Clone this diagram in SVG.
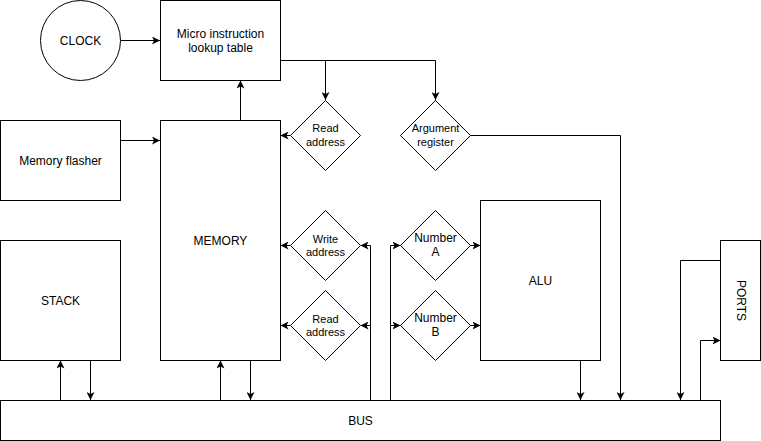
<svg xmlns="http://www.w3.org/2000/svg" width="761" height="441" viewBox="0 0 761 441">
<style>
.n{fill:#fff;stroke:#000;stroke-width:1}
.t{font-family:"Liberation Sans",Arial,sans-serif;font-size:12px;fill:#000;text-anchor:middle}
.s{font-size:11px}
.c{fill:none;stroke:#000;stroke-width:1}
</style>
<defs>
<marker id="a" viewBox="0 0 8 8" markerWidth="8" markerHeight="8" markerUnits="userSpaceOnUse" refX="8" refY="4" orient="auto">
<path d="M0,0 L8,4 L0,8 L2,4 z" fill="#000"/>
</marker>
</defs>
<rect width="761" height="441" fill="#fff"/>
<g id="connectors">
<path class="c" d="M120.5,40.5 H160" marker-end="url(#a)"/>
<path class="c" d="M120.5,140.5 H160" marker-end="url(#a)"/>
<path class="c" d="M240.5,120 V80.5" marker-end="url(#a)"/>
<path class="c" d="M280.5,60.5 H325.5 V100" marker-end="url(#a)"/>
<path class="c" d="M325.5,60.5 H435.5 V100" marker-end="url(#a)"/>
<path class="c" d="M290.5,135.5 H280.5" marker-end="url(#a)"/>
<path class="c" d="M470.5,135.5 H620.5 V400" marker-end="url(#a)"/>
<path class="c" d="M290.5,245.5 H280.5" marker-end="url(#a)"/>
<path class="c" d="M290.5,325.5 H280.5" marker-end="url(#a)"/>
<path class="c" d="M370.5,400 V245.5 H360.5" marker-end="url(#a)"/>
<path class="c" d="M370.5,325.5 H360.5" marker-end="url(#a)"/>
<path class="c" d="M390.5,400 V245.5 H400.5" marker-end="url(#a)"/>
<path class="c" d="M390.5,325.5 H400.5" marker-end="url(#a)"/>
<path class="c" d="M470.5,245.5 H480.5" marker-end="url(#a)"/>
<path class="c" d="M470.5,325.5 H480.5" marker-end="url(#a)"/>
<path class="c" d="M580.5,360.5 V400" marker-end="url(#a)"/>
<path class="c" d="M720.5,260.5 H680.5 V400" marker-end="url(#a)"/>
<path class="c" d="M700.5,400 V340.5 H720.5" marker-end="url(#a)"/>
<path class="c" d="M60.5,400 V360.5" marker-end="url(#a)"/>
<path class="c" d="M90.5,360.5 V400" marker-end="url(#a)"/>
<path class="c" d="M220.5,400 V360.5" marker-end="url(#a)"/>
<path class="c" d="M250.5,360.5 V400" marker-end="url(#a)"/>
</g>
<g id="clock"><circle class="n" cx="80.5" cy="40.5" r="40"/><text class="t" x="80.5" y="44.5">CLOCK</text></g>
<g id="micro"><rect class="n" x="160.5" y="0.5" width="120" height="80"/><text class="t" x="220.5" y="37.5">Micro instruction</text><text class="t" x="220.5" y="51.5">lookup table</text></g>
<g id="flasher"><rect class="n" x="0.5" y="120.5" width="120" height="80"/><text class="t" x="60.5" y="164.5">Memory flasher</text></g>
<g id="memory"><rect class="n" x="160.5" y="120.5" width="120" height="240"/><text class="t" x="220.5" y="244.5">MEMORY</text></g>
<g id="stack"><rect class="n" x="0.5" y="240.5" width="120" height="120"/><text class="t" x="60.5" y="304.5">STACK</text></g>
<g id="alu"><rect class="n" x="480.5" y="200.5" width="120" height="160"/><text class="t" x="540.5" y="284.5">ALU</text></g>
<g id="ports"><rect class="n" x="720.5" y="240.5" width="40" height="120"/><text class="t" transform="translate(740.5 300.5) rotate(90)" x="0" y="4">PORTS</text></g>
<g id="bus"><rect class="n" x="0.5" y="400.5" width="720" height="40"/><text class="t" x="360.5" y="424.5">BUS</text></g>
<g id="readaddr1"><path class="n" d="M325.5,100.5 L360.5,135.5 L325.5,170.5 L290.5,135.5 z"/><text class="t s" x="325.5" y="132">Read</text><text class="t s" x="325.5" y="146">address</text></g>
<g id="argreg"><path class="n" d="M435.5,100.5 L470.5,135.5 L435.5,170.5 L400.5,135.5 z"/><text class="t s" x="435.5" y="132">Argument</text><text class="t s" x="435.5" y="146">register</text></g>
<g id="writeaddr"><path class="n" d="M325.5,210.5 L360.5,245.5 L325.5,280.5 L290.5,245.5 z"/><text class="t s" x="325.5" y="243">Write</text><text class="t s" x="325.5" y="256">address</text></g>
<g id="readaddr2"><path class="n" d="M325.5,290.5 L360.5,325.5 L325.5,360.5 L290.5,325.5 z"/><text class="t s" x="325.5" y="323">Read</text><text class="t s" x="325.5" y="336">address</text></g>
<g id="numA"><path class="n" d="M435.5,210.5 L470.5,245.5 L435.5,280.5 L400.5,245.5 z"/><text class="t" x="435.5" y="242">Number</text><text class="t" x="435.5" y="256">A</text></g>
<g id="numB"><path class="n" d="M435.5,290.5 L470.5,325.5 L435.5,360.5 L400.5,325.5 z"/><text class="t" x="435.5" y="322">Number</text><text class="t" x="435.5" y="336">B</text></g>
</svg>
